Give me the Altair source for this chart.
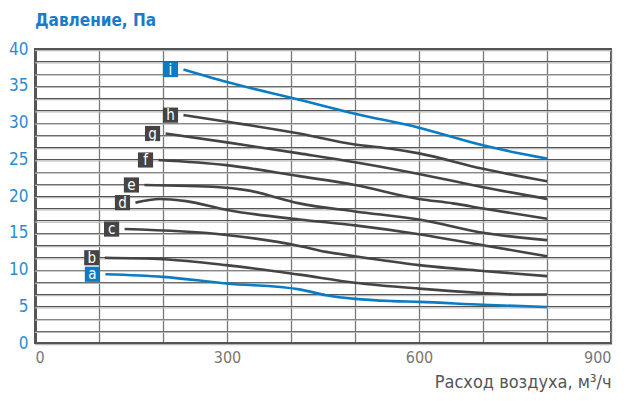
import altair as alt
import pandas as pd

# ---- data ----
series = ["a", "b", "c", "d", "e", "f", "g", "h", "i"]
series_colors = ["#0b7cc4", "#444444", "#444444", "#444444", "#444444",
                 "#444444", "#444444", "#444444", "#0b7cc4"]

a_x = [110, 200, 299, 413, 455, 500, 559, 600, 700, 800]
a_y = [9.35, 9.0, 8.1, 7.3, 6.5, 6.0, 5.7, 5.6, 5.2, 4.9]
b_x = [109, 200, 299, 413, 500, 600, 700, 746, 800]
b_y = [11.6, 11.4, 10.6, 9.3, 8.2, 7.4, 6.8, 6.6, 6.6]
c_x = [140, 299, 413, 455, 500, 600, 700, 800]
c_y = [15.5, 14.7, 13.2, 12.4, 11.8, 10.6, 9.8, 9.1]
d_x = [157, 195, 236, 300, 413, 500, 600, 700, 800]
d_y = [19.1, 19.6, 19.3, 18.1, 16.8, 16.0, 14.8, 13.3, 11.8]
e_x = [171, 288, 330, 413, 500, 600, 700, 800]
e_y = [21.5, 21.2, 20.8, 19.0, 17.9, 16.8, 15.0, 14.0]
f_x = [193, 299, 413, 500, 600, 653, 700, 800]
f_y = [24.9, 24.2, 22.7, 21.5, 19.6, 19.0, 18.3, 16.9]
g_x = [204, 300, 413, 500, 600, 700, 800]
g_y = [28.5, 27.3, 25.8, 24.6, 23.0, 21.2, 19.6]
h_x = [232, 300, 413, 500, 559, 600, 700, 800]
h_y = [31.0, 30.1, 28.5, 27.0, 26.4, 25.8, 23.7, 22.0]
i_x = [232, 300, 413, 500, 600, 700, 746, 800]
i_y = [37.2, 35.5, 33.1, 31.2, 29.3, 26.9, 26.0, 25.1]

x_grid = [0, 100, 200, 300, 400, 500, 600, 700, 800, 900]
x_labels = [0, 300, 600, 900]
y_grid = [0, 5/3, 10/3, 5, 20/3, 25/3, 10, 35/3, 40/3, 15, 50/3, 55/3, 20,
          65/3, 70/3, 25, 80/3, 85/3, 30, 95/3, 100/3, 35, 110/3, 115/3, 40]
y_labels = [0, 5, 10, 15, 20, 25, 30, 35, 40]

FONT = "DejaVu Sans Condensed, Roboto, sans-serif"

xs = [a_x, b_x, c_x, d_x, e_x, f_x, g_x, h_x, i_x]
ys = [a_y, b_y, c_y, d_y, e_y, f_y, g_y, h_y, i_y]
rows = []
for s, xx, yy in zip(series, xs, ys):
    for order, (xv, yv) in enumerate(zip(xx, yy)):
        rows.append({"curve": s, "flow": xv, "pa": yv, "ord": order})
df = pd.DataFrame(rows)
starts = df[df["ord"] == 0].copy()
grid_df = pd.DataFrame({"g": y_grid})

x_scale = alt.Scale(domain=[0, 900], nice=False)
y_scale = alt.Scale(domain=[0, 40], nice=False)
color_scale = alt.Scale(domain=series, range=series_colors)

label_list_x = "[" + ",".join(str(v) for v in x_labels) + "]"

x_axis = alt.Axis(
    values=x_grid,
    labelExpr="indexof(" + label_list_x + ", round(datum.value)) >= 0 ? datum.label : ''",
    labelOverlap=False,
    grid=True, gridColor="#777777", gridWidth=1.3,
    ticks=False, domainColor="#555555", domainWidth=3,
    labelColor="#777777", labelFontSize=16, labelFont=FONT, labelPadding=6,
    title="Расход воздуха, м³/ч", titleAnchor="end", titleFontSize=18,
    titleColor="#555555", titleFont=FONT, titleFontWeight="normal",
    titlePadding=8,
)
y_axis = alt.Axis(
    values=y_grid,
    labelExpr="abs(datum.value - round(datum.value/5)*5) < 0.01 ? toString(round(datum.value)) : ''",
    labelOverlap=False,
    grid=True, gridColor="#555555", gridWidth=1.2,
    ticks=False, domainColor="#555555", domainWidth=3,
    labelColor="#2b8bd1", labelFontSize=17, labelFont=FONT, labelPadding=7,
    title=None,
)

X = alt.X("flow:Q", scale=x_scale, axis=x_axis)
Y = alt.Y("pa:Q", scale=y_scale, axis=y_axis)

shadow = alt.Chart(grid_df).mark_rule(color="#b8b8b8", strokeWidth=1.2, yOffset=1.6).encode(
    y=alt.Y("g:Q", scale=y_scale, axis=y_axis)
)

lines = alt.Chart(df).mark_line(interpolate="monotone", strokeWidth=2.6).encode(
    x=X, y=Y,
    color=alt.Color("curve:N", scale=color_scale, legend=None),
    order="ord:Q",
)

boxes = alt.Chart(starts).mark_square(size=230, opacity=1, xOffset=-13).encode(
    x=X, y=Y,
    color=alt.Color("curve:N", scale=color_scale, legend=None),
)
letters = alt.Chart(starts).mark_text(
    dx=-13, dy=0, color="white", fontSize=15, font=FONT, baseline="middle", align="center"
).encode(
    x=X, y=Y,
    text="curve:N",
)

chart = (
    alt.layer(shadow, lines, boxes, letters)
    .properties(
        width=576, height=294,
        autosize=alt.AutoSizeParams(type="none"),
        padding={"left": 27, "top": 41, "right": 10, "bottom": 50},
        title=alt.TitleParams(
            "Давление, Па", anchor="start", frame="group", fontSize=17,
            fontWeight="bold", color="#1a7cc6", font=FONT, offset=10,
        ),
    )
    .configure_axis(labelOverlap=False)
    .configure_view(stroke="#555555", strokeWidth=2)
)

chart.save("out.html", embed_options={"renderer": "svg", "actions": False})
